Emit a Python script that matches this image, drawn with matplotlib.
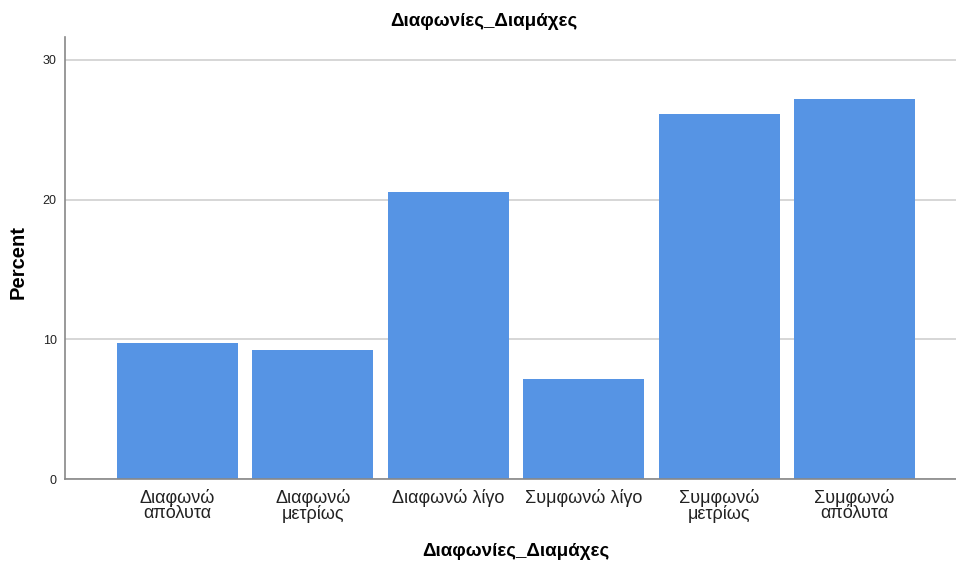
import matplotlib.pyplot as plt
import numpy as np

plt.rcParams['font.family'] = ['Liberation Sans', 'DejaVu Sans']

categories = ["Διαφωνώ\nαπόλυτα", "Διαφωνώ\nμετρίως", "Διαφωνώ λίγο",
              "Συμφωνώ λίγο", "Συμφωνώ\nμετρίως", "Συμφωνώ\nαπόλυτα"]
percent = [9.74, 9.23, 20.54, 7.16, 26.13, 27.2]
yticks = [0, 10, 20, 30]

fig = plt.figure(figsize=(9.56, 5.62), dpi=100)
ax = fig.add_axes([65 / 956, 83 / 562, 1 - 65 / 956, (479 - 37) / 562])

x = np.arange(len(categories))
ax.bar(x, percent, width=0.894, color='#5694E4', zorder=2)

ax.set_xlim(-0.831, 5.75)
ax.set_ylim(0, 31.64)
ax.set_yticks(yticks)
ax.set_yticklabels([str(t) for t in yticks], fontsize=9)
ax.set_xticks(x)
ax.set_xticklabels(categories, fontsize=13, linespacing=0.88)
ax.tick_params(axis='both', length=0, colors='#222222')
ax.tick_params(axis='x', pad=7)
ax.tick_params(axis='y', pad=6)
ax.grid(axis='y', color='#d0d0d0', linewidth=1.2, zorder=0)

for s in ['top', 'right']:
    ax.spines[s].set_visible(False)
for s in ['left', 'bottom']:
    ax.spines[s].set_color('#888888')
    ax.spines[s].set_linewidth(1.2)

fig.text(484 / 956, 1 - 22 / 562, "Διαφωνίες_Διαμάχες", ha='center', va='center',
         fontsize=13.5, fontweight='bold')
fig.text(516 / 956, 1 - 552 / 562, "Διαφωνίες_Διαμάχες", ha='center', va='center',
         fontsize=13.5, fontweight='bold')
fig.text(18 / 956, 1 - 262 / 562, "Percent", ha='center', va='center',
         rotation=90, fontsize=14.5, fontweight='bold')

fig.savefig('out.png', dpi=100)
